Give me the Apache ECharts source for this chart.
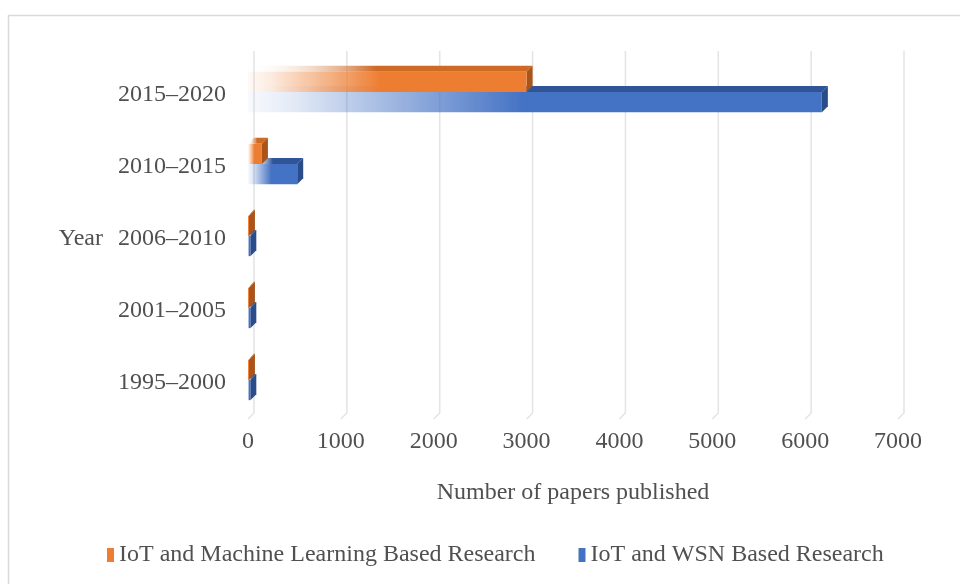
<!DOCTYPE html>
<html>
<head>
<meta charset="utf-8">
<script src="https://cdn.jsdelivr.net/npm/echarts@6/dist/echarts.min.js"></script>
<style>
  html, body { margin: 0; padding: 0; background: #fff; }
  #chart { width: 960px; height: 584px; }
</style>
</head>
<body>
<div id="chart"></div>
<script>
// categories bottom -> top (category axis grows upward)
const periodos = ['1995–2000', '2001–2005', '2006–2010', '2010–2015', '2015–2020'];
const mlPapers = [10, 10, 10, 150, 3000];
const wsnPapers = [25, 25, 25, 530, 6180];
const xTicks = [0, 1000, 2000, 3000, 4000, 5000, 6000, 7000];

const FONT = '"Liberation Serif", "Times New Roman", serif';
const TXT = '#505050';
const DEPTH = 6;

const cores = {
  ml:  { front: '237,125,49', top: '#CF6A24', side: '#A9541A' },
  wsn: { front: '68,114,196', top: '#2F5597', side: '#2A4C88' }
};

function renderBarra(cor, lado){
  return function(params, api){
    const v = api.value(0), c = api.value(1);
    const p0 = api.coord([0, c]);
    const p1 = api.coord([v, c]);
    const band = api.size([0, 1])[1];
    const h = band * 0.28;
    const cy = p0[1] - 3;
    const y0 = lado < 0 ? cy - h : cy;
    const y1 = y0 + h;
    const x0 = p0[0], x1 = Math.max(p1[0], p0[0] + 0.5);
    const d = DEPTH;
    return {
      type: 'group',
      children: [
        { type: 'polygon', shape: { points: [[x0, y0], [x0 + d, y0 - d], [x1 + d, y0 - d], [x1, y0]] },
          style: { fill: new echarts.graphic.LinearGradient(0, 0, 1, 0, [
            { offset: 0, color: 'rgba(255,255,255,0)' },
            { offset: 0.45, color: cor.top },
            { offset: 1, color: cor.top }
          ]) } },
        { type: 'polygon', shape: { points: [[x1, y0], [x1 + d, y0 - d], [x1 + d, y1 - d], [x1, y1]] },
          style: { fill: cor.side } },
        { type: 'rect', shape: { x: x0, y: y0, width: x1 - x0, height: h },
          style: { fill: new echarts.graphic.LinearGradient(0, 0, 1, 0, [
            { offset: 0, color: 'rgba(' + cor.front + ',0.04)' },
            { offset: 0.08, color: 'rgba(' + cor.front + ',0.15)' },
            { offset: 0.48, color: 'rgba(' + cor.front + ',1)' },
            { offset: 1, color: 'rgba(' + cor.front + ',1)' }
          ]) } }
      ]
    };
  };
}

function renderGrade(params, api){
  const x = api.coord([api.value(0), 0])[0];
  const cs = params.coordSys;
  const top = cs.y - 8, bottom = cs.y + cs.height;
  const d = DEPTH;
  return {
    type: 'polyline',
    shape: { points: [[x + d, top], [x + d, bottom - d], [x, bottom]] },
    style: { stroke: '#e4e4e4', lineWidth: 1.5, fill: null },
    silent: true
  };
}

const chart = echarts.init(document.getElementById('chart'));
chart.setOption({
  animation: false,
  textStyle: { fontFamily: FONT },
  graphic: [{
    type: 'rect', left: 6, top: 13, shape: { width: 1000, height: 620 },
    style: { fill: null, stroke: '#d9d9d9', lineWidth: 1.5 }, silent: true
  }],
  legend: {
    data: ['IoT and Machine Learning Based Research', 'IoT and WSN Based Research'],
    top: 538, left: 102,
    icon: 'rect', itemWidth: 7, itemHeight: 14, itemGap: 43,
    textStyle: { fontFamily: FONT, fontSize: 24, color: TXT }
  },
  grid: { left: 248, right: 62, top: 59, bottom: 165 },
  xAxis: {
    type: 'value', min: 0, max: 7000, interval: 1000,
    axisLine: { show: false }, axisTick: { show: false }, splitLine: { show: false },
    axisLabel: { margin: 11, fontSize: 24, color: TXT, fontFamily: FONT, formatter: v => String(v) },
    name: 'Number of papers published', nameLocation: 'middle', nameGap: 62,
    nameTextStyle: { fontSize: 24, color: TXT, fontFamily: FONT }
  },
  yAxis: {
    type: 'category', data: periodos,
    axisLine: { show: false }, axisTick: { show: false },
    axisLabel: { margin: 22, fontSize: 24, color: TXT, fontFamily: FONT },
    name: 'Year', nameLocation: 'middle', nameRotate: 0, nameGap: 145,
    nameTextStyle: { fontSize: 24, color: TXT, fontFamily: FONT }
  },
  series: [
    {
      name: 'grade', type: 'custom', silent: true, z: 1,
      renderItem: renderGrade, encode: { x: 0, y: 1 },
      data: xTicks.map(t => [t, 0])
    },
    {
      name: 'IoT and WSN Based Research', type: 'custom', z: 2,
      itemStyle: { color: '#4472C4' },
      renderItem: renderBarra(cores.wsn, 1), encode: { x: 0, y: 1 },
      data: wsnPapers.map((v, i) => [v, i])
    },
    {
      name: 'IoT and Machine Learning Based Research', type: 'custom', z: 3,
      itemStyle: { color: '#ED7D31' },
      renderItem: renderBarra(cores.ml, -1), encode: { x: 0, y: 1 },
      data: mlPapers.map((v, i) => [v, i])
    }
  ]
});
</script>
</body>
</html>
